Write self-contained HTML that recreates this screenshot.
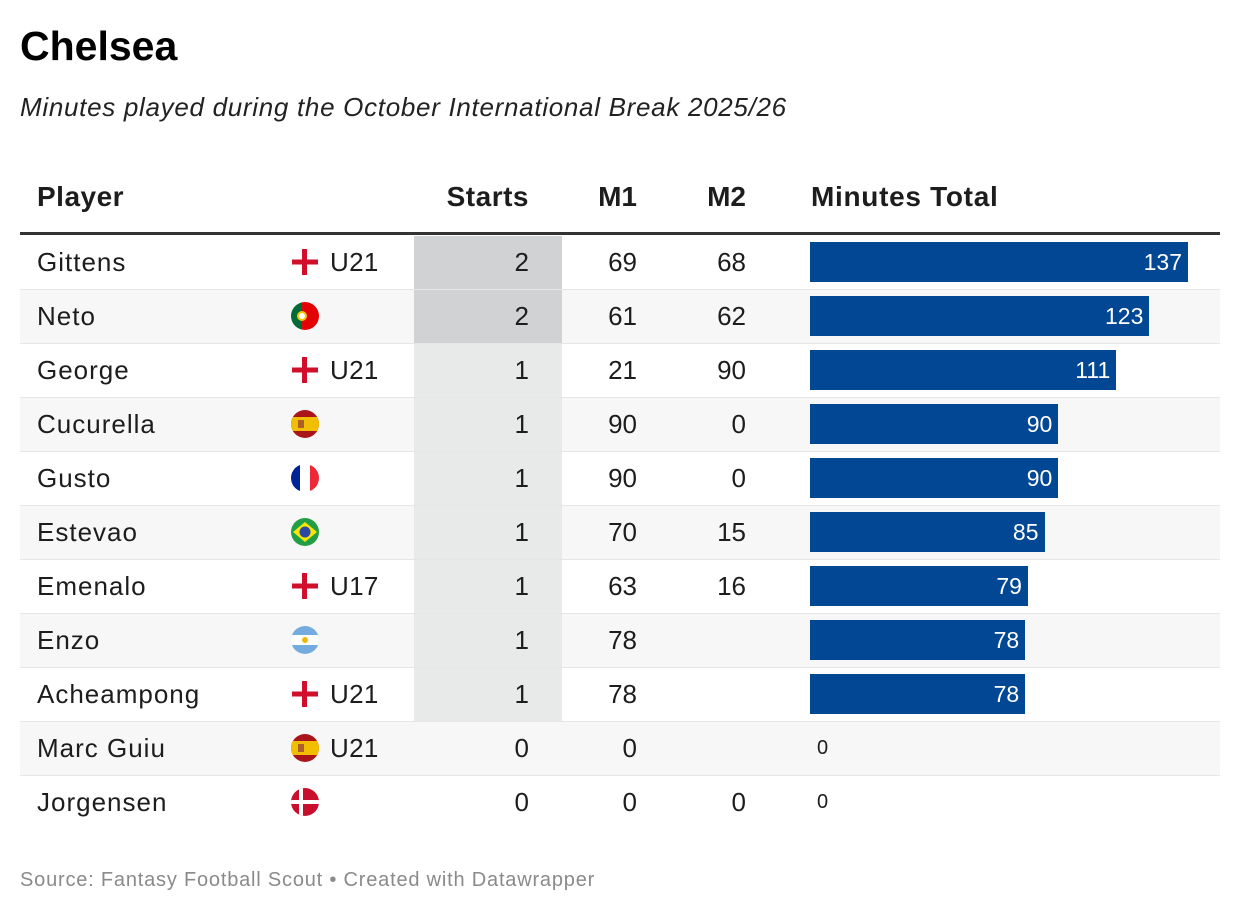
<!DOCTYPE html>
<html><head><meta charset="utf-8">
<style>
body{margin:0;width:1240px;height:914px;background:#fff;font-family:"Liberation Sans",sans-serif;color:#1d1d1d;position:relative;overflow:hidden}
.a{position:absolute;white-space:nowrap}
</style></head><body>
<div class="a" style="left:20px;top:23px;font-size:41px;font-weight:bold;color:#000">Chelsea</div>
<div class="a" style="left:20px;top:92px;font-size:26px;font-style:italic;color:#222;letter-spacing:0.7px">Minutes played during the October International Break 2025/26</div>
<div class="a" style="left:37px;top:181px;font-size:28px;font-weight:bold;letter-spacing:0.5px">Player</div>
<div class="a" style="left:414px;width:115px;text-align:right;top:181px;font-size:28px;font-weight:bold;letter-spacing:0.5px">Starts</div>
<div class="a" style="left:537px;width:100px;text-align:right;top:181px;font-size:28px;font-weight:bold">M1</div>
<div class="a" style="left:646px;width:100px;text-align:right;top:181px;font-size:28px;font-weight:bold">M2</div>
<div class="a" style="left:811px;top:181px;font-size:28px;font-weight:bold;letter-spacing:0.7px">Minutes Total</div>
<div class="a" style="left:20px;top:232px;width:1200px;height:3px;background:#333"></div>
<div id="rows"></div>
<div class="a" style="left:20px;top:869px;font-size:20px;color:#8a8a8a;letter-spacing:0.8px">Source: Fantasy Football Scout • Created with Datawrapper</div>
<script>
const players=["Gittens","Neto","George","Cucurella","Gusto","Estevao","Emenalo","Enzo","Acheampong","Marc Guiu","Jorgensen"];
const flags=["eng","por","eng","esp","fra","bra","eng","arg","eng","esp","den"];
const teams=["U21","","U21","","","","U17","","U21","U21",""];
const starts=[2,2,1,1,1,1,1,1,1,0,0];
const m1=[69,61,21,90,90,70,63,78,78,0,0];
const m2=[68,62,90,0,0,15,16,null,null,null,0];
const totals=[137,123,111,90,90,85,79,78,78,0,0];
const x0=810,scale=378/137;
function flagSvg(f){
  const c='<clipPath id="c"><circle cx="15" cy="15" r="14"/></clipPath>';
  let inner='';
  if(f==='eng')return '<svg width="30" height="30"><rect x="12" y="2" width="5" height="26" fill="#d0102a"/><rect x="2" y="12.5" width="26" height="5" fill="#d0102a"/></svg>';
  if(f==='por')inner='<rect width="12" height="30" fill="#046a38"/><rect x="12" width="18" height="30" fill="#e40303"/><circle cx="12" cy="15" r="5" fill="#f6c700"/><circle cx="12" cy="15" r="3" fill="#fff"/>';
  if(f==='esp')inner='<rect width="30" height="30" fill="#aa151b"/><rect y="8" width="30" height="14" fill="#f1bf00"/><rect x="8" y="11" width="6" height="8" fill="#ad5f2a"/>';
  if(f==='fra')inner='<rect width="10" height="30" fill="#002395"/><rect x="10" width="10" height="30" fill="#fff"/><rect x="20" width="10" height="30" fill="#ed2939"/>';
  if(f==='bra')inner='<rect width="30" height="30" fill="#229e45"/><polygon points="15,5 27,15 15,25 3,15" fill="#f8e509"/><circle cx="15" cy="15" r="5.5" fill="#2b49a3"/>';
  if(f==='arg')inner='<rect width="30" height="30" fill="#74acdf"/><rect y="10" width="30" height="10" fill="#fff"/><circle cx="15" cy="15" r="3" fill="#f6b40e"/>';
  if(f==='den')inner='<rect width="30" height="30" fill="#c8102e"/><rect x="9" width="4" height="30" fill="#fff"/><rect y="13" width="30" height="4" fill="#fff"/>';
  return '<svg width="30" height="30"><defs>'+c.replace('id="c"','id="c'+f+'"')+'</defs><g clip-path="url(#c'+f+')">'+inner+'</g></svg>';
}
const root=document.getElementById('rows');
players.forEach((p,i)=>{
  const top=236+54*i;
  const row=document.createElement('div');
  row.className='a';
  
  
  const last=i===players.length-1;
  row.style.cssText=`left:20px;top:${top}px;width:1200px;height:53px;background:${i%2?'#f7f7f7':'#fff'};border-bottom:1.5px solid ${last?'transparent':'#e6e6e6'};font-size:26px`;
  const sc=starts[i]===2?'#d1d2d4':starts[i]===1?'#e8e9e9':'transparent';
  let h=`<div class="a" style="left:394px;top:0;width:148px;height:53px;background:${sc}"></div>`;
  h+=`<div class="a" style="left:17px;top:11px;letter-spacing:1px">${p}</div>`;
  h+=`<div class="a" style="left:270px;top:11px">${flagSvg(flags[i])}</div>`;
  if(teams[i])h+=`<div class="a" style="left:310px;top:11px;letter-spacing:0.3px">${teams[i]}</div>`;
  h+=`<div class="a" style="left:409px;width:100px;text-align:right;top:11px">${starts[i]}</div>`;
  h+=`<div class="a" style="left:517px;width:100px;text-align:right;top:11px">${m1[i]??''}</div>`;
  h+=`<div class="a" style="left:626px;width:100px;text-align:right;top:11px">${m2[i]??''}</div>`;
  const w=totals[i]*scale;
  if(totals[i]>0){
    h+=`<div class="a" style="left:${x0-20}px;top:6px;width:${w}px;height:40px;background:#024794"></div>`;
    h+=`<div class="a" style="left:${x0-20}px;top:13px;width:${w-6}px;text-align:right;color:#fff;font-size:23px">${totals[i]}</div>`;
  } else {
    h+=`<div class="a" style="left:${x0-20+7}px;top:15px;font-size:20px">${totals[i]}</div>`;
  }
  row.innerHTML=h;
  root.appendChild(row);
});
</script>
</body></html>
